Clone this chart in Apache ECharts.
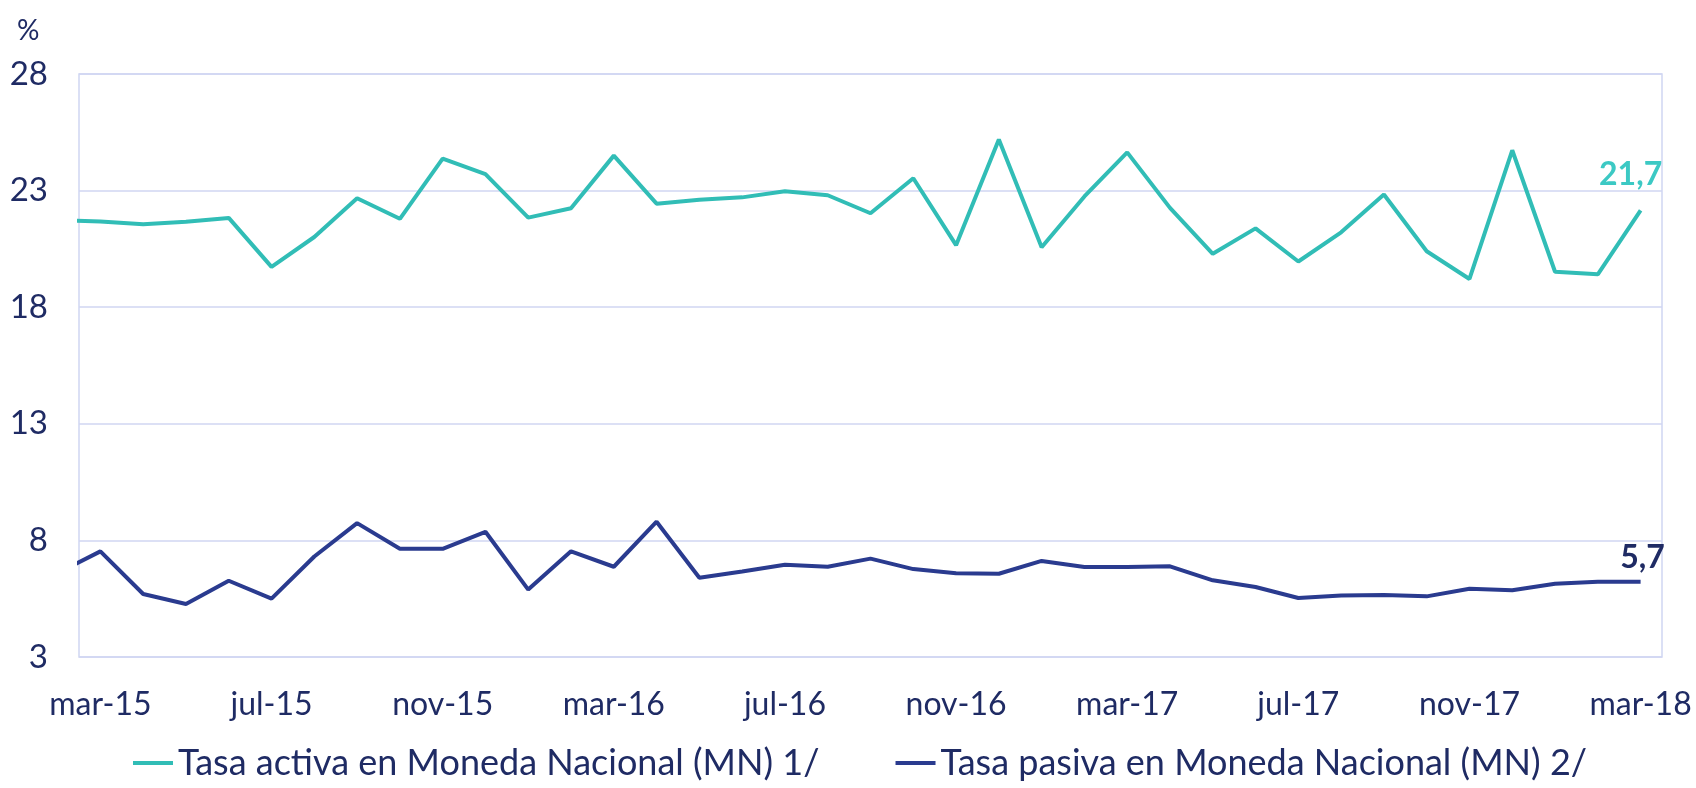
<!DOCTYPE html>
<html>
<head>
<meta charset="utf-8">
<script src="https://cdn.jsdelivr.net/npm/echarts@6/dist/echarts.min.js"></script>
<style>
  html, body { margin: 0; padding: 0; background: #fff; }
  #chart { width: 1696px; height: 788px; }
</style>
</head>
<body>
<div id="chart"></div>
<script>
// months feb-15 .. mar-18 (feb-15 only peeks in at the left edge)
const months = ['feb-15','mar-15','abr-15','may-15','jun-15','jul-15','ago-15','sep-15','oct-15','nov-15','dic-15',
  'ene-16','feb-16','mar-16','abr-16','may-16','jun-16','jul-16','ago-16','sep-16','oct-16','nov-16','dic-16',
  'ene-17','feb-17','mar-17','abr-17','may-17','jun-17','jul-17','ago-17','sep-17','oct-17','nov-17','dic-17',
  'ene-18','feb-18','mar-18']
const labelMonths = [1, 5, 9, 13, 17, 21, 25, 29, 33, 37]

const tasaActiva = [21.72, 21.68, 21.56, 21.66, 21.83, 19.73, 21.01, 22.67, 21.79, 24.37, 23.71,
  21.84, 22.24, 24.50, 22.44, 22.61, 22.71, 22.97, 22.80, 22.03, 23.53, 20.66, 25.19,
  20.57, 22.75, 24.64, 22.26, 20.29, 21.38, 19.96, 21.21, 22.83, 20.40, 19.21, 24.73,
  19.52, 19.41, 22.15]
const tasaPasiva = [6.59, 7.53, 5.70, 5.27, 6.27, 5.50, 7.31, 8.74, 7.64, 7.64, 8.37,
  5.89, 7.53, 6.87, 8.80, 6.40, 6.67, 6.96, 6.87, 7.22, 6.77, 6.59, 6.57,
  7.12, 6.86, 6.86, 6.89, 6.29, 6.00, 5.53, 5.64, 5.66, 5.60, 5.93, 5.86,
  6.14, 6.23, 6.23]
const endLabels = ['21,7', '5,7']
const yTicks = [3, 8, 13, 18, 23, 28]

const seriesNames = ['Tasa activa en Moneda Nacional (MN) 1/', 'Tasa pasiva en Moneda Nacional (MN) 2/']
const colors = ['#31bdb6', '#2a3b8f']
const textColor = '#1f2b64'
const gridColor = '#d0d6f2'
const font = 'Lato'

// only the last point carries a (bold) label
const toPoints = (values, endLabel, labelStyle) => values.map((v, i) => {
  const item = { value: [i, v] }
  if (i === values.length - 1) {
    item.label = Object.assign({ show: true, formatter: endLabel }, labelStyle)
  }
  return item
})

const chart = echarts.init(document.getElementById('chart'))
chart.setOption({
  animation: false,
  color: colors,
  textStyle: { fontFamily: font },
  title: {
    text: '%',
    left: 12,
    top: 12,
    textStyle: { color: textColor, fontSize: 28, fontWeight: 'normal', fontFamily: font }
  },
  grid: {
    left: 79, right: 34, top: 74, bottom: 131,
    show: true,
    borderColor: gridColor,
    borderWidth: 1.5
  },
  legend: {
    top: 740,
    left: 128,
    icon: 'rect',
    itemWidth: 40,
    itemHeight: 4,
    itemGap: 76,
    textStyle: { color: textColor, fontSize: 36, fontFamily: font },
    data: seriesNames
  },
  xAxis: {
    type: 'value',
    min: 0.5,
    max: months.length - 0.5,
    axisLine: { show: false },
    axisTick: { show: false },
    splitLine: { show: false },
    axisLabel: {
      customValues: labelMonths,
      formatter: v => months[Math.round(v)],
      color: textColor,
      fontSize: 32,
      margin: 32
    }
  },
  yAxis: {
    type: 'value',
    min: 3,
    max: 28,
    interval: 5,
    axisLine: { show: false },
    axisTick: { show: false },
    splitLine: { lineStyle: { color: gridColor, width: 1.5 } },
    axisLabel: {
      color: textColor,
      fontSize: 33,
      margin: 31,
      formatter: v => (yTicks.indexOf(v) >= 0 ? String(v) : '')
    }
  },
  series: [
    {
      name: seriesNames[0],
      type: 'line',
      showSymbol: true,
      symbol: 'circle',
      symbolSize: 0,
      lineStyle: { width: 4, color: colors[0] },
      data: toPoints(tasaActiva, endLabels[0], {
        position: 'top', distance: 20, offset: [-10, 0],
        color: '#3cc9c4', fontSize: 32, fontWeight: 'bold'
      })
    },
    {
      name: seriesNames[1],
      type: 'line',
      showSymbol: true,
      symbol: 'circle',
      symbolSize: 0,
      lineStyle: { width: 4, color: colors[1] },
      data: toPoints(tasaPasiva, endLabels[1], {
        position: 'top', distance: 8, offset: [2, 0],
        color: '#1f2b64', fontSize: 32, fontWeight: 'bold'
      })
    }
  ]
})
</script>
</body>
</html>
